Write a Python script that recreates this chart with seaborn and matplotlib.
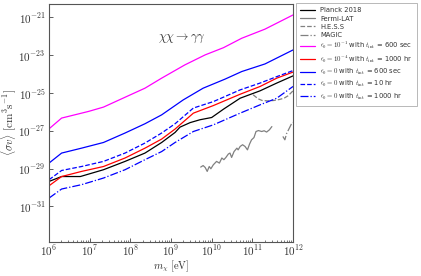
import numpy as np
import pandas as pd
import matplotlib
matplotlib.use("Agg")
import matplotlib.pyplot as plt
import seaborn as sns

# log10 of mass [eV] and log10 of <sigma v> [cm^3 s^-1]
m_grid = [6.0, 6.31, 6.80, 7.34, 7.87, 8.36, 8.77, 9.10, 9.55, 10.04, 10.70, 11.19, 11.60, 12.0]

magenta_m = [6.0, 6.31, 6.97, 7.34, 7.91, 8.36, 8.77, 9.34, 9.84, 10.29, 10.74, 11.31, 12.0]
magenta_sv = [-26.90, -26.33, -25.98, -25.75, -25.19, -24.75, -24.22, -23.52, -22.99, -22.61, -22.11, -21.63, -20.88]

blue600_m = [6.0, 6.31, 6.80, 7.34, 7.87, 8.36, 8.77, 9.30, 9.79, 10.33, 10.74, 11.31, 12.0]
blue600_sv = [-28.71, -28.18, -27.92, -27.62, -27.12, -26.63, -26.16, -25.37, -24.75, -24.27, -23.87, -23.47, -22.73]

blue10_sv = [-29.59, -29.10, -28.89, -28.62, -28.18, -27.65, -27.12, -26.63, -25.80, -25.46, -24.84, -24.48, -24.14, -23.82]
blue1000_sv = [-30.56, -30.08, -29.85, -29.50, -29.06, -28.53, -28.10, -27.62, -27.04, -26.69, -26.07, -25.63, -25.28, -24.66]
red_sv = [-29.91, -29.42, -29.15, -28.89, -28.44, -27.92, -27.44, -26.91, -26.07, -25.67, -25.07, -24.66, -24.22, -23.90]

planck_m = [6.0, 6.31, 6.77, 7.34, 7.87, 8.36, 8.77, 9.10, 9.22, 9.47, 9.71, 10.0, 10.29, 10.70, 11.19, 11.60, 12.0]
planck_sv = [-29.68, -29.42, -29.42, -29.06, -28.62, -28.18, -27.62, -27.09, -26.81, -26.57, -26.42, -26.30,
             -25.86, -25.28, -24.89, -24.48, -24.10]

fermi_m = [9.73, 9.79, 9.84, 9.89, 9.94, 9.98, 10.04, 10.08, 10.12, 10.19, 10.25, 10.30, 10.35, 10.41,
           10.45, 10.49, 10.55, 10.62, 10.65, 10.70, 10.76, 10.82, 10.88, 10.93, 10.98, 11.04, 11.09,
           11.15, 11.23, 11.29, 11.35, 11.42, 11.48]
fermi_sv = [-28.92, -28.84, -28.94, -29.15, -28.89, -29.01, -28.80, -28.71, -28.62, -28.71, -28.44, -28.53,
            -28.41, -28.23, -28.18, -28.41, -28.10, -27.92, -28.01, -27.83, -27.74, -27.83, -28.01, -27.71,
            -27.48, -27.36, -27.04, -26.99, -27.04, -27.00, -27.07, -26.95, -26.78]

hess_m = [11.02, 11.14, 11.24, 11.38, 11.53, 11.66, 11.78, 11.88, 11.95, 12.0]
hess_sv = [-25.10, -25.31, -25.40, -25.42, -25.40, -25.35, -25.28, -25.15, -25.00, -24.89]

magic_m = [11.75, 11.80, 11.84, 11.91, 11.97, 12.0]
magic_sv = [-27.30, -27.48, -27.16, -26.86, -26.60, -26.56]

series = [
    ("Planck 2018", planck_m, planck_sv, "black", "-"),
    ("Fermi-LAT", fermi_m, fermi_sv, "gray", "-"),
    ("H.E.S.S", hess_m, hess_sv, "gray", "--"),
    ("MAGIC", magic_m, magic_sv, "gray", "-."),
    (r"$\epsilon_0 = 10^{-1}$ with $t_{\rm int}$ = 600 sec", magenta_m, magenta_sv, "#ff00ff", "-"),
    (r"$\epsilon_0 = 10^{-4}$ with $t_{\rm int}$ = 1000 hr", m_grid, red_sv, "red", "-"),
    (r"$\epsilon_0 = 0$ with $t_{\rm int}$ = 600 sec", blue600_m, blue600_sv, "blue", "-"),
    (r"$\epsilon_0 = 0$ with $t_{\rm int}$ = 10 hr", m_grid, blue10_sv, "blue", "--"),
    (r"$\epsilon_0 = 0$ with $t_{\rm int}$ = 1000 hr", m_grid, blue1000_sv, "blue", "-."),
]

sns.set_style("ticks")
plt.rcParams["mathtext.fontset"] = "cm"
plt.rcParams["font.family"] = ["DejaVu Sans"]

fig = plt.figure(figsize=(4.21, 2.76), dpi=100)
ax = fig.add_axes([0.1164, 0.125, 0.5796, 0.8605])

for label, m, sv, color, ls in series:
    df = pd.DataFrame({"m": np.power(10.0, m), "sv": np.power(10.0, sv)})
    sns.lineplot(data=df, x="m", y="sv", ax=ax, color=color, linestyle=ls,
                 linewidth=0.9, label=label, sort=False, estimator=None)

ax.set_xscale("log")
ax.set_yscale("log")
ax.set_xlim(1e6, 1e12)
ax.set_ylim(1.4e-33, 5e-21)
ax.set_yticks([1e-31, 1e-29, 1e-27, 1e-25, 1e-23, 1e-21])
ax.set_yticklabels([r"$10^{-31}$", r"$10^{-29}$", r"$10^{-27}$", r"$10^{-25}$", r"$10^{-23}$", r"$10^{-21}$"])
ax.set_xticks([1e6, 1e7, 1e8, 1e9, 1e10, 1e11, 1e12])
ax.set_xticklabels([r"$10^{6}$", r"$10^{7}$", r"$10^{8}$", r"$10^{9}$", r"$10^{10}$", r"$10^{11}$", r"$10^{12}$"])
ax.tick_params(which="both", direction="in", labelsize=8, colors="#444444", labelcolor="#333333", pad=2.5)
ax.tick_params(axis="x", pad=1.5)
ax.tick_params(which="major", length=3, width=0.6)
ax.tick_params(which="minor", length=1.5, width=0.5)
for sp in ax.spines.values():
    sp.set_color("#555555")
    sp.set_linewidth(0.8)

ax.set_xlabel(r"$m_\chi\ [\mathrm{eV}]$", fontsize=7.5, color="#333333", labelpad=0.5)
ax.set_ylabel(r"$\langle\sigma v\rangle\ [\mathrm{cm}^3\mathrm{s}^{-1}]$", fontsize=8, color="#333333", labelpad=0)
ax.text(1.9e9, 10 ** -22.1, r"$\chi\chi \rightarrow \gamma\gamma$", fontsize=9, ha="center", va="center",
        color="#333333")

handles, labels = ax.get_legend_handles_labels()
ax.get_legend().remove()
leg = fig.legend(handles, labels, loc="upper left", bbox_to_anchor=(0.703, 0.988), fontsize=4.9,
                 frameon=True, fancybox=False, edgecolor="#999999", handlelength=2.2,
                 labelspacing=0.32, borderpad=0.6, handletextpad=0.8, borderaxespad=0)
leg.get_frame().set_linewidth(0.6)
for t in leg.get_texts():
    t.set_color("#333333")

fig.savefig("out.png", dpi=100)
